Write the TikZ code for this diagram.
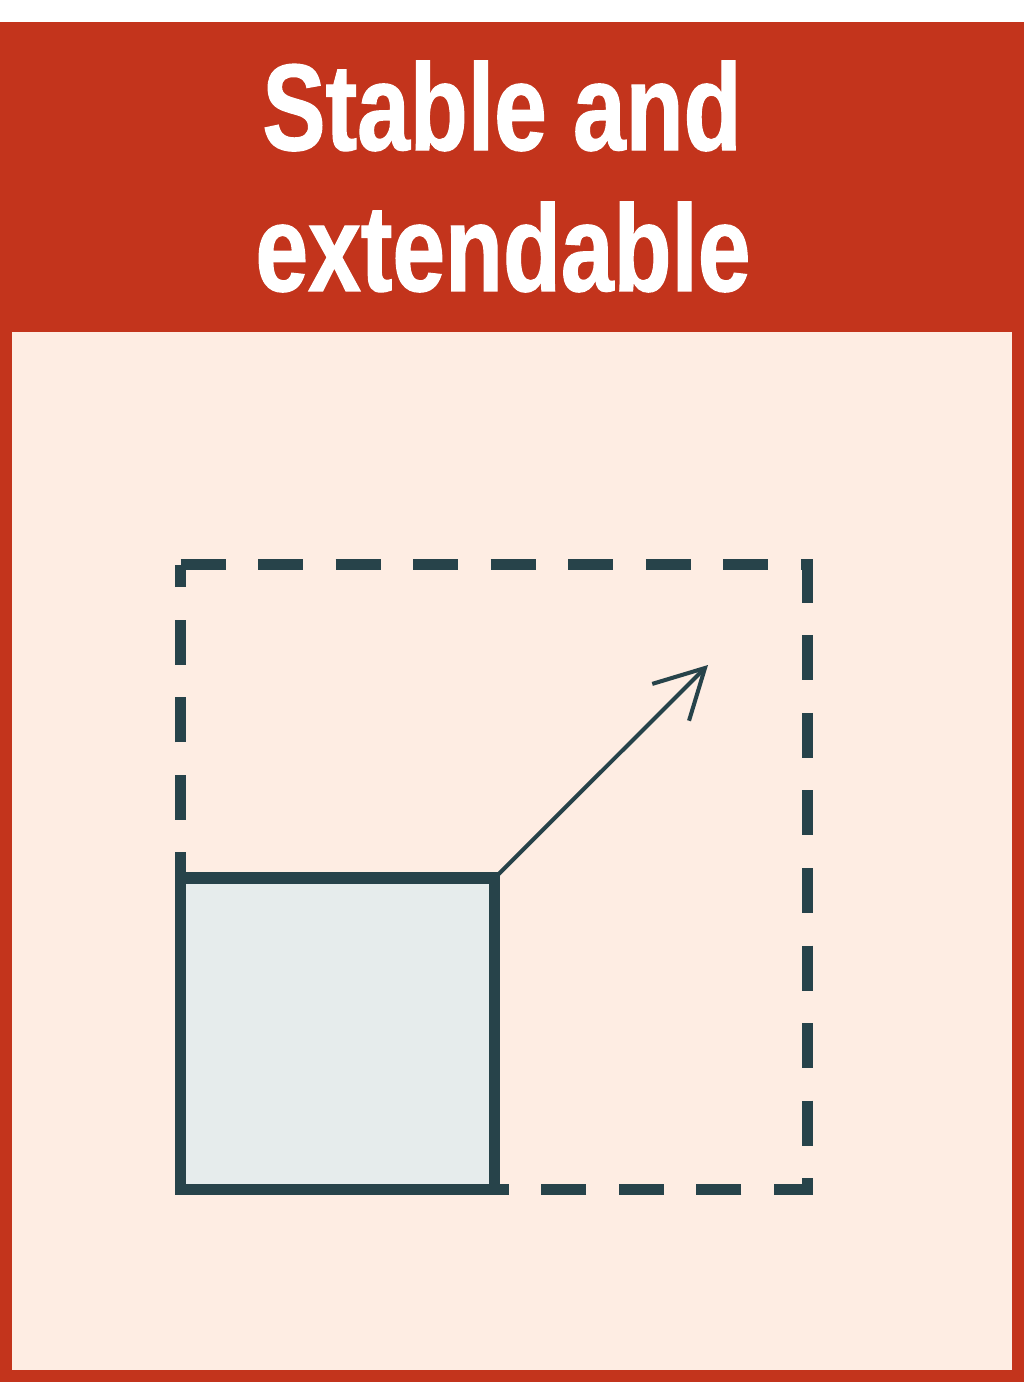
\documentclass[tikz,border=0pt]{standalone}
\usepackage{fontspec}
\newfontfamily\headfont[FakeStretch=0.77,FakeBold=1]{Liberation Sans}
\usepackage{tikz}
\usetikzlibrary{arrows.meta}

\definecolor{headred}{HTML}{C3341C}
\definecolor{panelpink}{HTML}{FEEDE3}
\definecolor{ink}{HTML}{27434A}
\definecolor{boxgrey}{HTML}{E6ECEC}

\tikzset{
  headline/.style={anchor=base,text=white,inner sep=0pt,
                   font=\headfont\bfseries\fontsize{35}{40}\selectfont},
  thick ink/.style={draw=ink,line width=3.2pt}
}

\begin{document}
\begin{tikzpicture}[x=0.01cm,y=-0.01cm]

\useasboundingbox (0,0) rectangle (1024,1382);
\fill[headred] (0,22) rectangle (1024,1382);
\fill[panelpink] (12,332) rectangle (1012,1370);

\node[headline] (title1) at (502,150) {Stable and};
\node[headline] (title2) at (503,291) {extendable};

% room to grow
\draw[thick ink,dash pattern=on 12.8pt off 9.25pt] (180.5,564.5) -- (807.5,564.5)
                                                  -- (807.5,1189.5)
                                                  -- (180.5,1189.5) -- cycle;

\node[thick ink,fill=boxgrey,anchor=north west,inner sep=0pt,outer sep=0pt,
      minimum width=3.14cm,minimum height=3.115cm] (box) at (180.5,878) {};

\coordinate (tip) at (708,665);
\draw[ink,line width=1.15pt,-{Straight Barb[length=13.8pt,width=14.8pt]}] (box.north east) -- (tip);

\end{tikzpicture}
\end{document}
